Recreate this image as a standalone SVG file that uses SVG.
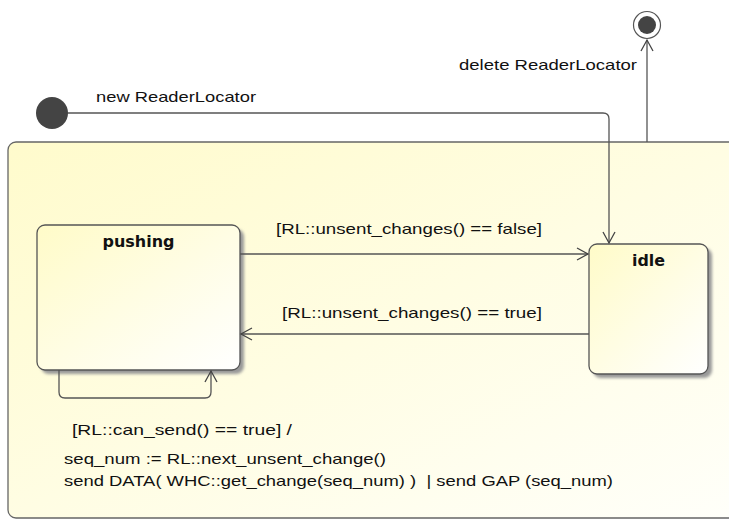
<svg xmlns="http://www.w3.org/2000/svg" width="729" height="519" viewBox="0 0 729 519">
<defs>
<linearGradient id="g" x1="0" y1="0" x2="1" y2="1">
<stop offset="0" stop-color="#fffbc8"/>
<stop offset="1" stop-color="#ffffff"/>
</linearGradient>
<linearGradient id="go" x1="0" y1="0" x2="1" y2="1">
<stop offset="0" stop-color="#fffbcc"/>
<stop offset="1" stop-color="#fffffa"/>
</linearGradient>
<marker id="a" markerWidth="14" markerHeight="14" refX="12" refY="7" orient="auto" markerUnits="userSpaceOnUse">
<path d="M1,1 L12,7 L1,13" fill="none" stroke="#444" stroke-width="1.3"/>
</marker>
<filter id="sh" x="-10%" y="-10%" width="130%" height="130%">
<feGaussianBlur stdDeviation="1.5"/>
</filter>
</defs>
<style>
.st{fill:url(#g);stroke:#555;stroke-width:1.3}
.ln{fill:none;stroke:#555;stroke-width:1.3}
.t{font-family:"Liberation Sans",Arial,sans-serif;font-size:15px;fill:#111}
.b{font-family:"DejaVu Sans",sans-serif;font-size:15px;font-weight:bold;fill:#111}
</style>
<rect width="729" height="519" fill="#ffffff"/>
<g id="composite">
<rect x="8" y="142" width="740" height="376" rx="8" fill="url(#go)" stroke="#666" stroke-width="1.3"/>
</g>
<g id="pushing">
<rect x="41" y="229" width="203" height="145" rx="8" fill="#999" filter="url(#sh)"/>
<rect class="st" x="37" y="225" width="203" height="145" rx="8"/>
<text class="b" x="138.5" y="247" text-anchor="middle" textLength="72" lengthAdjust="spacingAndGlyphs">pushing</text>
</g>
<g id="idle">
<rect x="593" y="248" width="119" height="130" rx="8" fill="#999" filter="url(#sh)"/>
<rect class="st" x="589" y="244" width="119" height="130" rx="8"/>
<text class="b" x="648.5" y="266" text-anchor="middle" textLength="33" lengthAdjust="spacingAndGlyphs">idle</text>
</g>
<g id="initial">
<circle cx="52" cy="113" r="16" fill="#444"/>
</g>
<g id="final">
<circle cx="647" cy="25" r="13.5" fill="#fff" stroke="#555" stroke-width="1.2"/>
<circle cx="647" cy="25" r="9" fill="#444"/>
</g>
<g id="connectors">
<path class="ln" d="M68,113 H603 Q609,113 609,119 V243" marker-end="url(#a)"/>
<path class="ln" d="M647,142 V40" marker-end="url(#a)"/>
<path class="ln" d="M240,254 H588" marker-end="url(#a)"/>
<path class="ln" d="M589,334 H241" marker-end="url(#a)"/>
<path class="ln" d="M59,370 V392 Q59,398 65,398 H205 Q211,398 211,392 V371" marker-end="url(#a)"/>
</g>
<g id="labels">
<text class="t" x="96" y="102" textLength="160" lengthAdjust="spacingAndGlyphs">new ReaderLocator</text>
<text class="t" x="459" y="70" textLength="178" lengthAdjust="spacingAndGlyphs">delete ReaderLocator</text>
<text class="t" x="276" y="234" textLength="266" lengthAdjust="spacingAndGlyphs">[RL::unsent_changes() == false]</text>
<text class="t" x="282" y="318" textLength="260" lengthAdjust="spacingAndGlyphs">[RL::unsent_changes() == true]</text>
<text class="t" x="72" y="435" textLength="220" lengthAdjust="spacingAndGlyphs">[RL::can_send() == true] /</text>
<text class="t" x="64" y="464" textLength="322" lengthAdjust="spacingAndGlyphs">seq_num := RL::next_unsent_change()</text>
<text class="t" x="64" y="486" textLength="549" lengthAdjust="spacingAndGlyphs" xml:space="preserve">send DATA( WHC::get_change(seq_num) )  | send GAP (seq_num)</text>
</g>
</svg>
